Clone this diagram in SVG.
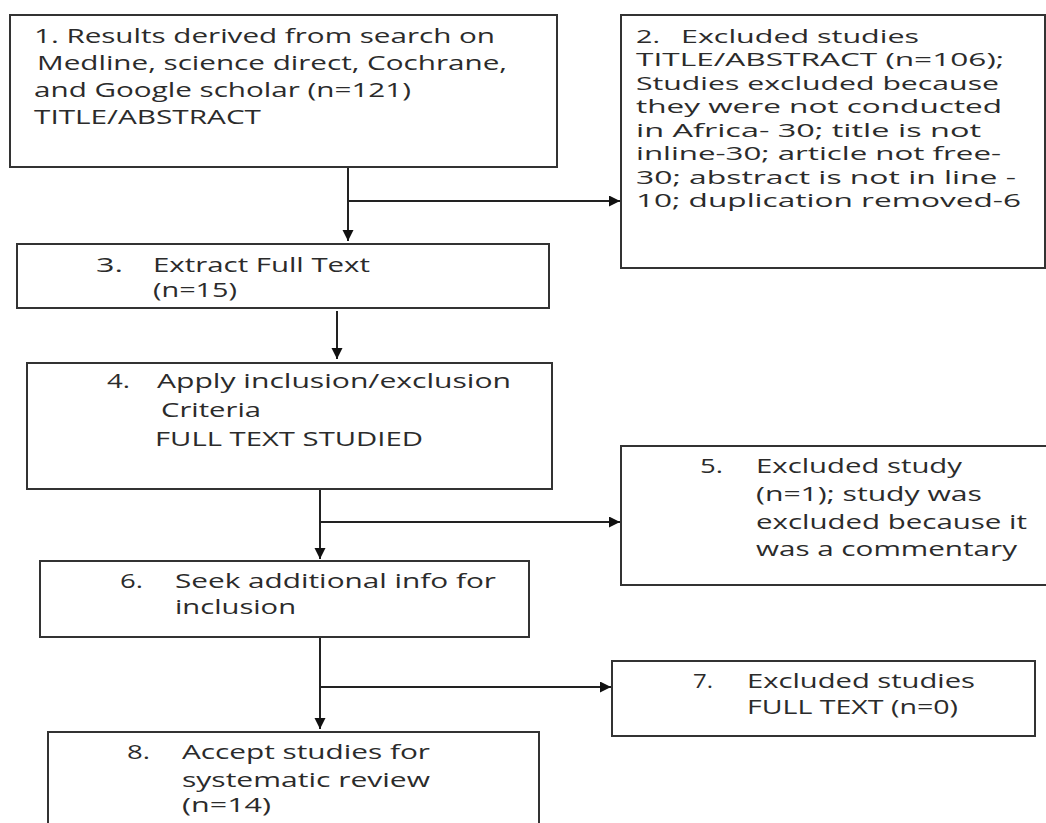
<svg xmlns="http://www.w3.org/2000/svg" width="1046" height="823" viewBox="0 0 1046 823">
<style>
.box{fill:#fff;stroke:#333;stroke-width:2}
.t{font-family:"Open Sans","Liberation Sans",sans-serif;font-size:20px;fill:#2b2b2b}
#node2 .t{font-size:17.5px}
.c{fill:none;stroke:#222;stroke-width:2}
</style>
<defs>
<marker id="ah" markerUnits="userSpaceOnUse" markerWidth="12" markerHeight="12" refX="11" refY="5.5" orient="auto">
<path d="M0,0 L11,5.5 L0,11 z" fill="#111"/>
</marker>
</defs>
<rect width="1046" height="823" fill="#fff"/>
<g id="connectors">
<path class="c" d="M348,167 V241" marker-end="url(#ah)"/>
<path class="c" d="M348,201 H620" marker-end="url(#ah)"/>
<path class="c" d="M337,311 V359" marker-end="url(#ah)"/>
<path class="c" d="M320,489 V559" marker-end="url(#ah)"/>
<path class="c" d="M320,522 H620" marker-end="url(#ah)"/>
<path class="c" d="M320,637 V729" marker-end="url(#ah)"/>
<path class="c" d="M320,687 H611" marker-end="url(#ah)"/>
</g>
<g id="node1">
<rect class="box" x="10" y="15" width="547" height="152"/>
<text class="t" x="34" y="43" textLength="461" lengthAdjust="spacingAndGlyphs">1. Results derived from search on</text>
<text class="t" x="37" y="70" textLength="470" lengthAdjust="spacingAndGlyphs">Medline, science direct, Cochrane,</text>
<text class="t" x="34" y="97" textLength="377" lengthAdjust="spacingAndGlyphs">and Google scholar (n=121)</text>
<text class="t" x="34" y="124" textLength="227" lengthAdjust="spacingAndGlyphs">TITLE/ABSTRACT</text>
</g>
<g id="node2">
<rect class="box" x="621" y="15" width="424" height="253"/>
<text class="t" x="636" y="43" textLength="24" lengthAdjust="spacingAndGlyphs">2.</text>
<text class="t" x="681" y="43" textLength="238" lengthAdjust="spacingAndGlyphs">Excluded studies</text>
<text class="t" x="636" y="66" textLength="368" lengthAdjust="spacingAndGlyphs">TITLE/ABSTRACT (n=106);</text>
<text class="t" x="636" y="90" textLength="363" lengthAdjust="spacingAndGlyphs">Studies excluded because</text>
<text class="t" x="636" y="113" textLength="366" lengthAdjust="spacingAndGlyphs">they were not conducted</text>
<text class="t" x="636" y="137" textLength="345" lengthAdjust="spacingAndGlyphs">in Africa- 30; title is not</text>
<text class="t" x="636" y="160" textLength="365" lengthAdjust="spacingAndGlyphs">inline-30; article not free-</text>
<text class="t" x="636" y="184" textLength="380" lengthAdjust="spacingAndGlyphs">30; abstract is not in line -</text>
<text class="t" x="636" y="207" textLength="385" lengthAdjust="spacingAndGlyphs">10; duplication removed-6</text>
</g>
<g id="node3">
<rect class="box" x="17" y="244" width="532" height="64"/>
<text class="t" x="96" y="272" textLength="27" lengthAdjust="spacingAndGlyphs">3.</text>
<text class="t" x="153" y="272" textLength="217" lengthAdjust="spacingAndGlyphs">Extract Full Text</text>
<text class="t" x="153" y="297" textLength="84" lengthAdjust="spacingAndGlyphs">(n=15)</text>
</g>
<g id="node4">
<rect class="box" x="27" y="363" width="525" height="126"/>
<text class="t" x="107" y="388" textLength="23" lengthAdjust="spacingAndGlyphs">4.</text>
<text class="t" x="157" y="388" textLength="354" lengthAdjust="spacingAndGlyphs">Apply inclusion/exclusion</text>
<text class="t" x="161" y="417" textLength="100" lengthAdjust="spacingAndGlyphs">Criteria</text>
<text class="t" x="155" y="446" textLength="268" lengthAdjust="spacingAndGlyphs">FULL TEXT STUDIED</text>
</g>
<g id="node5">
<rect class="box" x="621" y="446" width="440" height="139"/>
<text class="t" x="700" y="473" textLength="23" lengthAdjust="spacingAndGlyphs">5.</text>
<text class="t" x="756" y="473" textLength="206" lengthAdjust="spacingAndGlyphs">Excluded study</text>
<text class="t" x="756" y="501" textLength="226" lengthAdjust="spacingAndGlyphs">(n=1); study was</text>
<text class="t" x="756" y="529" textLength="271" lengthAdjust="spacingAndGlyphs">excluded because it</text>
<text class="t" x="756" y="556" textLength="261" lengthAdjust="spacingAndGlyphs">was a commentary</text>
</g>
<g id="node6">
<rect class="box" x="40" y="561" width="489" height="76"/>
<text class="t" x="120" y="588" textLength="23" lengthAdjust="spacingAndGlyphs">6.</text>
<text class="t" x="175" y="588" textLength="321" lengthAdjust="spacingAndGlyphs">Seek additional info for</text>
<text class="t" x="175" y="614" textLength="121" lengthAdjust="spacingAndGlyphs">inclusion</text>
</g>
<g id="node7">
<rect class="box" x="612" y="661" width="423" height="75"/>
<text class="t" x="693" y="688" textLength="20" lengthAdjust="spacingAndGlyphs">7.</text>
<text class="t" x="747" y="688" textLength="228" lengthAdjust="spacingAndGlyphs">Excluded studies</text>
<text class="t" x="747" y="714" textLength="211" lengthAdjust="spacingAndGlyphs">FULL TEXT (n=0)</text>
</g>
<g id="node8">
<rect class="box" x="48" y="732" width="491" height="100"/>
<text class="t" x="127" y="759" textLength="23" lengthAdjust="spacingAndGlyphs">8.</text>
<text class="t" x="182" y="759" textLength="248" lengthAdjust="spacingAndGlyphs">Accept studies for</text>
<text class="t" x="182" y="787" textLength="248" lengthAdjust="spacingAndGlyphs">systematic review</text>
<text class="t" x="182" y="812" textLength="89" lengthAdjust="spacingAndGlyphs">(n=14)</text>
</g>
</svg>
